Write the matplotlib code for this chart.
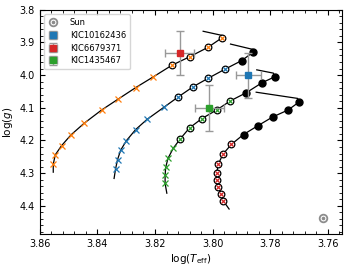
import matplotlib
matplotlib.use("Agg")
import matplotlib.pyplot as plt
from matplotlib.ticker import AutoMinorLocator, MultipleLocator

# ---- Data ----
# Track 1 (orange)
t1_line_start = (3.8553, 4.297)
t1_x_teff = [3.8553, 3.8546, 3.8524, 3.8491, 3.8446, 3.8385, 3.8327, 3.8267, 3.8206]
t1_x_logg = [4.2724, 4.2439, 4.2156, 4.1825, 4.1475, 4.1067, 4.0730, 4.0383, 4.0055]
t1_c_teff = [3.8142, 3.8078, 3.8016, 3.7969]
t1_c_logg = [3.9702, 3.9432, 3.9150, 3.8868]
t1_f_teff = []
t1_f_logg = []
t1_hook_teff = [3.7962, 3.8033]
t1_hook_logg = [3.8797, 3.8660]

# Track 2 (blue)
t2_line_start = (3.8342, 4.3162)
t2_x_teff = [3.8337, 3.8330, 3.8319, 3.8299, 3.8267, 3.8228, 3.8169]
t2_x_logg = [4.2877, 4.2585, 4.2294, 4.2003, 4.1665, 4.1358, 4.0984]
t2_c_teff = [3.8121, 3.8067, 3.8015, 3.7957]
t2_c_logg = [4.0678, 4.0352, 4.0095, 3.9819]
t2_f_teff = [3.7899, 3.7859]
t2_f_logg = [3.9555, 3.9297]
t2_hook_teff = [3.7855, 3.7938]
t2_hook_logg = [3.9227, 3.9052]

# Track 3 (green)
t3_line_start = (3.8159, 4.3613)
t3_x_teff = [3.8165, 3.8165, 3.8163, 3.8155, 3.8137]
t3_x_logg = [4.3315, 4.3070, 4.2825, 4.2548, 4.2242]
t3_c_teff = [3.8113, 3.8080, 3.8038, 3.7986, 3.7939]
t3_c_logg = [4.1957, 4.1613, 4.1334, 4.1067, 4.0791]
t3_f_teff = [3.7883, 3.7828, 3.7785]
t3_f_logg = [4.0537, 4.0230, 4.0055]
t3_hook_teff = [3.7789, 3.7847]
t3_hook_logg = [3.9941, 3.9840]

# Track 4 (red)
t4_line_start = (3.7943, 4.4097)
t4_x_teff = []
t4_x_logg = []
t4_c_teff = [3.7963, 3.7971, 3.7980, 3.7986, 3.7986, 3.7980, 3.7965, 3.7935]
t4_c_logg = [4.3849, 4.3650, 4.3438, 4.3214, 4.2984, 4.2723, 4.2426, 4.2119]
t4_f_teff = [3.7893, 3.7842, 3.7792, 3.7738, 3.7700]
t4_f_logg = [4.1818, 4.1543, 4.1282, 4.1067, 4.0822]
t4_hook_teff = [3.7705, 3.7849]
t4_hook_logg = [4.0714, 4.0524]

# Stars
star_names = ["KIC10162436", "KIC6679371", "KIC1435467"]
star_teff = [3.7876, 3.8115, 3.8011]
star_logg = [4.000, 3.933, 4.100]
star_teff_err = [0.0042, 0.0051, 0.0052]
star_logg_err = [0.069, 0.068, 0.071]
star_colors = ["#1f77b4", "#d62728", "#2ca02c"]

sun_teff = 3.7617
sun_logg = 4.438

track_colors = ["#ff7f0e", "#1f77b4", "#2ca02c", "#d62728"]

tracks = [
    (t1_line_start, t1_x_teff, t1_x_logg, t1_c_teff, t1_c_logg, t1_f_teff, t1_f_logg, t1_hook_teff, t1_hook_logg),
    (t2_line_start, t2_x_teff, t2_x_logg, t2_c_teff, t2_c_logg, t2_f_teff, t2_f_logg, t2_hook_teff, t2_hook_logg),
    (t3_line_start, t3_x_teff, t3_x_logg, t3_c_teff, t3_c_logg, t3_f_teff, t3_f_logg, t3_hook_teff, t3_hook_logg),
    (t4_line_start, t4_x_teff, t4_x_logg, t4_c_teff, t4_c_logg, t4_f_teff, t4_f_logg, t4_hook_teff, t4_hook_logg),
]

# ---- Figure ----
fig = plt.figure(figsize=(3.49, 2.69), dpi=100)
ax = fig.add_axes([0.1138, 0.129, 0.8672, 0.835])

for (start, xt, xg, ct, cg, ft, fg, ht, hg), col in zip(tracks, track_colors):
    lt = [start[0]] + xt + ct + ft + ht
    lg = [start[1]] + xg + cg + fg + hg
    ax.plot(lt, lg, '-', color='k', lw=0.9, zorder=2)
    if xt:
        ax.plot(xt, xg, 'x', color=col, ms=4.3, mew=0.9, zorder=3)
    if ct:
        ax.plot(ct, cg, 'o', mfc='white', mec='k', ms=4.8, mew=0.9, zorder=3)
        ax.plot(ct, cg, 'x', color=col, ms=3.0, mew=0.9, zorder=4)
    if ft:
        ax.plot(ft, fg, 'o', color='k', ms=5.0, zorder=3)

# Stars with error bars
handles = []
sun_ring = ax.plot([sun_teff], [sun_logg], 'o', mfc='none', mec='#8c8c8c', ms=5.5, mew=1.3, zorder=5)[0]
sun_dot = ax.plot([sun_teff], [sun_logg], 'o', color='#8c8c8c', ms=1.6, zorder=5)[0]
handles.append((sun_ring, sun_dot))
labels = ["Sun"]
for name, t, g, te, ge, c in zip(star_names, star_teff, star_logg, star_teff_err, star_logg_err, star_colors):
    eb = ax.errorbar([t], [g], xerr=[te], yerr=[ge], fmt='s', color=c, ms=4,
                     ecolor='#999999', elinewidth=1.0, capsize=3, capthick=1.0, zorder=6)
    handles.append(eb)
    labels.append(name)

ax.legend(handles, labels, loc='upper left', fontsize=6, handlelength=1.2,
          borderpad=0.5, labelspacing=0.45, handletextpad=1.4, framealpha=0.8,
          bbox_to_anchor=(0.0, 1.0))

ax.set_xlim(3.86, 3.755)
ax.set_ylim(4.487, 3.8)
ax.xaxis.set_major_locator(MultipleLocator(0.02))
ax.yaxis.set_major_locator(MultipleLocator(0.1))
ax.xaxis.set_minor_locator(AutoMinorLocator(5))
ax.yaxis.set_minor_locator(AutoMinorLocator(5))
ax.tick_params(which='both', direction='in', top=True, right=True, labelsize=7)
ax.tick_params(which='major', length=3.5, width=0.8)
ax.tick_params(which='minor', length=2, width=0.6)
ax.set_xlabel(r'log($T_{\rm eff}$)', fontsize=7.5, labelpad=2)
ax.set_ylabel(r'log($g$)', fontsize=7.5, labelpad=3)

fig.savefig('out.png', dpi=100)
